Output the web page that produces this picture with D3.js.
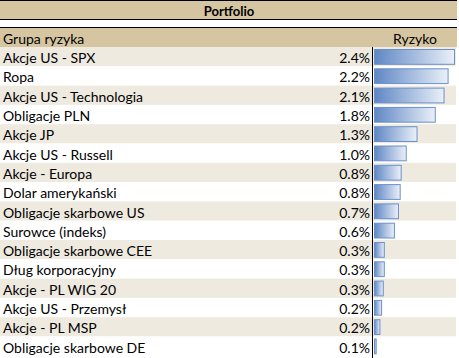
<!DOCTYPE html>
<html><head><meta charset="utf-8">
<script src="https://cdn.jsdelivr.net/npm/d3@7"></script>
<style>body{margin:0;background:#fff}svg{display:block}text{font-family:Lato,"Open Sans",sans-serif}</style>
</head><body><div id="chart"></div>
<script>
const title = "Portfolio";
const headerLabel = "Grupa ryzyka";
const headerValue = "Ryzyko";
const categories = ["Akcje US - SPX","Ropa","Akcje US - Technologia","Obligacje PLN","Akcje JP","Akcje US - Russell","Akcje - Europa","Dolar amerykański","Obligacje skarbowe US","Surowce (indeks)","Obligacje skarbowe CEE","Dług korporacyjny","Akcje - PL WIG 20","Akcje US - Przemysł","Akcje - PL MSP","Obligacje skarbowe DE"];
const values = [0.0240,0.0221,0.0209,0.0183,0.0129,0.0097,0.0082,0.0079,0.0074,0.0062,0.0032,0.0032,0.0029,0.0024,0.0019,0.0008];

const W = 459, H = 358;
const svg = d3.select("#chart").append("svg").attr("width", W).attr("height", H);
const tan = "#D5C5A0", shade = "#EEEAE0";
const rowTop = 47, rowH = 19.3, tableRight = 457, divX = 372.5;

// title band
svg.append("rect").attr("x",0).attr("y",1).attr("width",tableRight).attr("height",18).attr("fill",tan);
svg.append("line").attr("x1",0).attr("x2",tableRight).attr("y1",0.5).attr("y2",0.5).attr("stroke","#000");
svg.append("line").attr("x1",0).attr("x2",tableRight).attr("y1",19.5).attr("y2",19.5).attr("stroke","#000");
svg.append("text").attr("x",229).attr("y",10.5).attr("text-anchor","middle").attr("dominant-baseline","central")
  .attr("font-weight","bold").attr("font-size",13).attr("fill","#000").text(title);

// header band
svg.append("rect").attr("x",0).attr("y",28).attr("width",tableRight).attr("height",19).attr("fill",tan);
svg.append("line").attr("x1",0).attr("x2",tableRight).attr("y1",27.5).attr("y2",27.5).attr("stroke","#000");
svg.append("text").attr("x",3).attr("y",38).attr("dominant-baseline","central").attr("font-size",14).text(headerLabel);
svg.append("text").attr("x",415).attr("y",38).attr("text-anchor","middle").attr("dominant-baseline","central").attr("font-size",14).text(headerValue);

const y = d3.scaleBand().domain(categories).range([rowTop, rowTop + rowH*categories.length]);
const x = d3.scaleLinear().domain([0, d3.max(values)]).range([0, 81]);
const fmt = d3.format(".1%");

const defs = svg.append("defs");
const grad = defs.append("linearGradient").attr("id","bargrad").attr("x1","0").attr("x2","1").attr("y1","0").attr("y2","0");
grad.append("stop").attr("offset","0%").attr("stop-color","#5F87C5");
grad.append("stop").attr("offset","100%").attr("stop-color","#EAF0F8");

const rows = svg.selectAll("g.row").data(categories).join("g").attr("class","row");
rows.append("rect").attr("x",0).attr("y",d=>y(d)).attr("width",456).attr("height",y.bandwidth())
  .attr("fill",(d,i)=> i%2===0 ? shade : "#fff");
rows.append("text").attr("x",3).attr("y",d=>y(d)+y.bandwidth()/2+1).attr("dominant-baseline","central")
  .attr("font-size",14).attr("fill","#000").text(d=>d);
rows.append("text").attr("x",370).attr("y",d=>y(d)+y.bandwidth()/2+1).attr("text-anchor","end").attr("dominant-baseline","central")
  .attr("font-size",14).attr("fill","#000").text((d,i)=>fmt(values[i]));
rows.append("rect").attr("x",374.5).attr("y",d=>y(d)+2.5).attr("height",y.bandwidth()-4.5)
  .attr("width",(d,i)=>Math.max(1, x(values[i])-1)).attr("fill","url(#bargrad)").attr("stroke","#6A90CB").attr("stroke-width",1);

svg.append("line").attr("x1",divX).attr("x2",divX).attr("y1",rowTop).attr("y2",H).attr("stroke","#000");
</script></body></html>
